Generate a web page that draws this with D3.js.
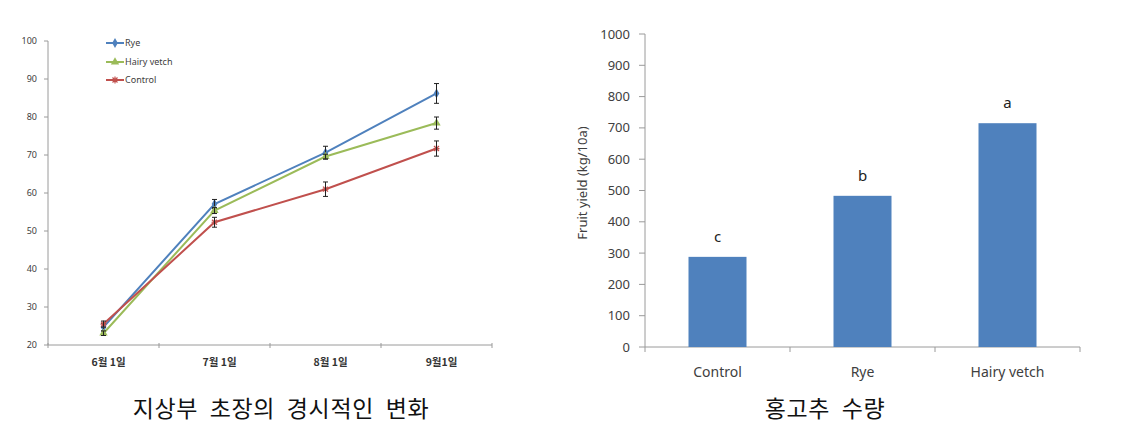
<!DOCTYPE html>
<html><head><meta charset="utf-8">
<script src="https://cdn.jsdelivr.net/npm/d3@7"></script>
<style>
body{margin:0;background:#fff;}
svg{display:block;font-family:"Noto Sans","Noto Sans CJK KR",sans-serif;}
</style></head>
<body><svg id="c" width="1122" height="428"></svg>
<script>
// ---- Data: left chart (plant height over time) ----
const dates = ["6월 1일", "7월 1일", "8월 1일", "9월1일"];
const seriesNames = ["Rye", "Hairy vetch", "Control"];
const ryeValues = [24.7, 57.1, 70.6, 86.2];
const hairyValues = [23.1, 55.4, 69.6, 78.4];
const controlValues = [25.5, 52.3, 61.0, 71.7];
const ryeErr = [1.0, 1.2, 1.7, 2.6];
const hairyErr = [0.6, 0.8, 0.6, 1.6];
const controlErr = [0.8, 1.3, 1.9, 2.0];
const leftTicks = [20, 30, 40, 50, 60, 70, 80, 90, 100];

// ---- Data: right chart (fruit yield) ----
const treatments = ["Control", "Rye", "Hairy vetch"];
const yieldValues = [288, 483, 715];
const yieldLetters = ["c", "b", "a"];
const rightTicks = [0, 100, 200, 300, 400, 500, 600, 700, 800, 900, 1000];

const captions = ["지상부 초장의 경시적인 변화", "홍고추 수량"];

const svg = d3.select("#c");
const axisColor = "#9a9a9a";
const textColor = "#404040";

// ================= LEFT CHART =================
const xL = d3.scaleBand().domain(dates).range([48, 492]).padding(0);
const yL = d3.scaleLinear().domain([20, 100]).range([345, 41]);
const gL = svg.append("g");

gL.append("line").attr("x1", 48).attr("x2", 48).attr("y1", yL(100)).attr("y2", yL(20))
  .attr("stroke", axisColor).attr("stroke-width", 1);
gL.selectAll(".yt").data(leftTicks).enter().append("line")
  .attr("x1", 44).attr("x2", 48).attr("y1", d => yL(d)).attr("y2", d => yL(d))
  .attr("stroke", axisColor);
gL.selectAll(".yl").data(leftTicks).enter().append("text")
  .attr("x", 37).attr("y", d => yL(d)).attr("dy", "0.35em")
  .attr("text-anchor", "end").attr("font-size", 9).attr("fill", textColor)
  .text(d => d);

gL.append("line").attr("x1", 48).attr("x2", 492).attr("y1", yL(20)).attr("y2", yL(20))
  .attr("stroke", axisColor);
const bL = dates.map(d => xL(d)).concat([xL(dates[dates.length - 1]) + xL.bandwidth()]);
gL.selectAll(".xt").data(bL).enter().append("line")
  .attr("x1", d => d).attr("x2", d => d).attr("y1", yL(20) - 2).attr("y2", yL(20) + 3)
  .attr("stroke", axisColor);
gL.selectAll(".xl").data(dates).enter().append("text")
  .attr("x", d => xL(d) + xL.bandwidth() / 2 + 5).attr("y", 366)
  .attr("text-anchor", "middle").attr("font-size", 10.5).attr("font-weight", "bold")
  .attr("fill", "#333").attr("font-family", "'Noto Sans CJK KR',sans-serif")
  .text(d => d);

const series = [
  {name: "Rye", vals: ryeValues, err: ryeErr, color: "#4F81BD", marker: "diamond"},
  {name: "Hairy vetch", vals: hairyValues, err: hairyErr, color: "#9BBB59", marker: "triangle"},
  {name: "Control", vals: controlValues, err: controlErr, color: "#C0504D", marker: "cross"}
];
const cx = d => xL(d) + xL.bandwidth() / 2;

function drawMarker(g, type, x, y, color) {
  if (type === "diamond") {
    g.append("path").attr("d", d3.symbol().type(d3.symbolDiamond).size(28)())
      .attr("transform", `translate(${x},${y})`).attr("fill", color);
  } else if (type === "triangle") {
    g.append("path").attr("d", d3.symbol().type(d3.symbolTriangle).size(30)())
      .attr("transform", `translate(${x},${y})`).attr("fill", color);
  } else {
    g.append("path").attr("d", `M${x - 3},${y}H${x + 3}M${x},${y - 3.5}V${y + 3.5}M${x - 2.5},${y - 2.5}L${x + 2.5},${y + 2.5}M${x - 2.5},${y + 2.5}L${x + 2.5},${y - 2.5}`)
      .attr("stroke", color).attr("stroke-width", 1.2).attr("fill", "none");
  }
}

const line = d3.line().x(d => cx(d.date)).y(d => yL(d.v));
series.forEach(s => {
  const pts = dates.map((d, i) => ({date: d, v: s.vals[i], e: s.err[i]}));
  gL.append("path").datum(pts).attr("d", line).attr("fill", "none")
    .attr("stroke", s.color).attr("stroke-width", 2);
  pts.forEach(p => drawMarker(gL, s.marker, cx(p.date), yL(p.v), s.color));
  pts.forEach(p => {
    const x = cx(p.date);
    gL.append("path")
      .attr("d", `M${x},${yL(p.v + p.e)}V${yL(p.v - p.e)}M${x - 2.5},${yL(p.v + p.e)}H${x + 2.5}M${x - 2.5},${yL(p.v - p.e)}H${x + 2.5}`)
      .attr("stroke", "#222").attr("stroke-width", 1).attr("fill", "none");
  });
});

const legY = [43, 62, 80];
series.forEach((s, i) => {
  const y = legY[i];
  gL.append("line").attr("x1", 106).attr("x2", 124).attr("y1", y).attr("y2", y)
    .attr("stroke", s.color).attr("stroke-width", 2);
  drawMarker(gL, s.marker, 115, y, s.color);
  gL.append("text").attr("x", 125).attr("y", y).attr("dy", "0.35em")
    .attr("font-size", 9).attr("fill", textColor).text(s.name);
});

// ================= RIGHT CHART =================
const xR = d3.scaleBand().domain(treatments).range([645, 1080]).paddingInner(0.6).paddingOuter(0.3);
const yR = d3.scaleLinear().domain([0, 1000]).range([347, 34]);
const gR = svg.append("g");

gR.append("line").attr("x1", 645).attr("x2", 645).attr("y1", yR(1000)).attr("y2", yR(0))
  .attr("stroke", axisColor);
gR.selectAll(".yt").data(rightTicks).enter().append("line")
  .attr("x1", 639).attr("x2", 645).attr("y1", d => yR(d)).attr("y2", d => yR(d))
  .attr("stroke", axisColor);
gR.selectAll(".yl").data(rightTicks).enter().append("text")
  .attr("x", 630).attr("y", d => yR(d)).attr("dy", "0.35em")
  .attr("text-anchor", "end").attr("font-size", 13).attr("fill", textColor)
  .text(d => d);

gR.append("line").attr("x1", 645).attr("x2", 1080).attr("y1", yR(0)).attr("y2", yR(0))
  .attr("stroke", axisColor);
const stepR = xR.step();
const bR = [645].concat(treatments.slice(1).map(d => xR(d) - (stepR - xR.bandwidth()) / 2)).concat([1080]);
gR.selectAll(".xt").data(bR).enter().append("line")
  .attr("x1", d => d).attr("x2", d => d).attr("y1", yR(0)).attr("y2", yR(0) + 5)
  .attr("stroke", axisColor);
gR.selectAll(".xl").data(treatments).enter().append("text")
  .attr("x", d => xR(d) + xR.bandwidth() / 2).attr("y", 372).attr("dy", "0.35em")
  .attr("text-anchor", "middle").attr("font-size", 14).attr("fill", textColor)
  .text(d => d);

gR.selectAll(".bar").data(treatments).enter().append("rect")
  .attr("x", d => xR(d)).attr("width", xR.bandwidth())
  .attr("y", (d, i) => yR(yieldValues[i])).attr("height", (d, i) => yR(0) - yR(yieldValues[i]))
  .attr("fill", "#4F81BD");
gR.selectAll(".let").data(treatments).enter().append("text")
  .attr("x", d => xR(d) + xR.bandwidth() / 2).attr("y", (d, i) => yR(yieldValues[i]) - 15)
  .attr("text-anchor", "middle").attr("font-size", 15).attr("fill", "#222")
  .text((d, i) => yieldLetters[i]);

gR.append("text").attr("transform", "translate(587,183) rotate(-90)")
  .attr("text-anchor", "middle").attr("font-size", 13).attr("fill", textColor)
  .text("Fruit yield (kg/10a)");

// ================= CAPTIONS =================
svg.append("text").attr("x", 281).attr("y", 417).attr("text-anchor", "middle")
  .attr("font-size", 23).attr("letter-spacing", 0.6).attr("word-spacing", 6)
  .attr("fill", "#111").attr("font-family", "'Noto Sans CJK KR',sans-serif")
  .text(captions[0]);
svg.append("text").attr("x", 825).attr("y", 417).attr("text-anchor", "middle")
  .attr("font-size", 23).attr("letter-spacing", 0.6).attr("word-spacing", 6)
  .attr("fill", "#111").attr("font-family", "'Noto Sans CJK KR',sans-serif")
  .text(captions[1]);
</script></body></html>
